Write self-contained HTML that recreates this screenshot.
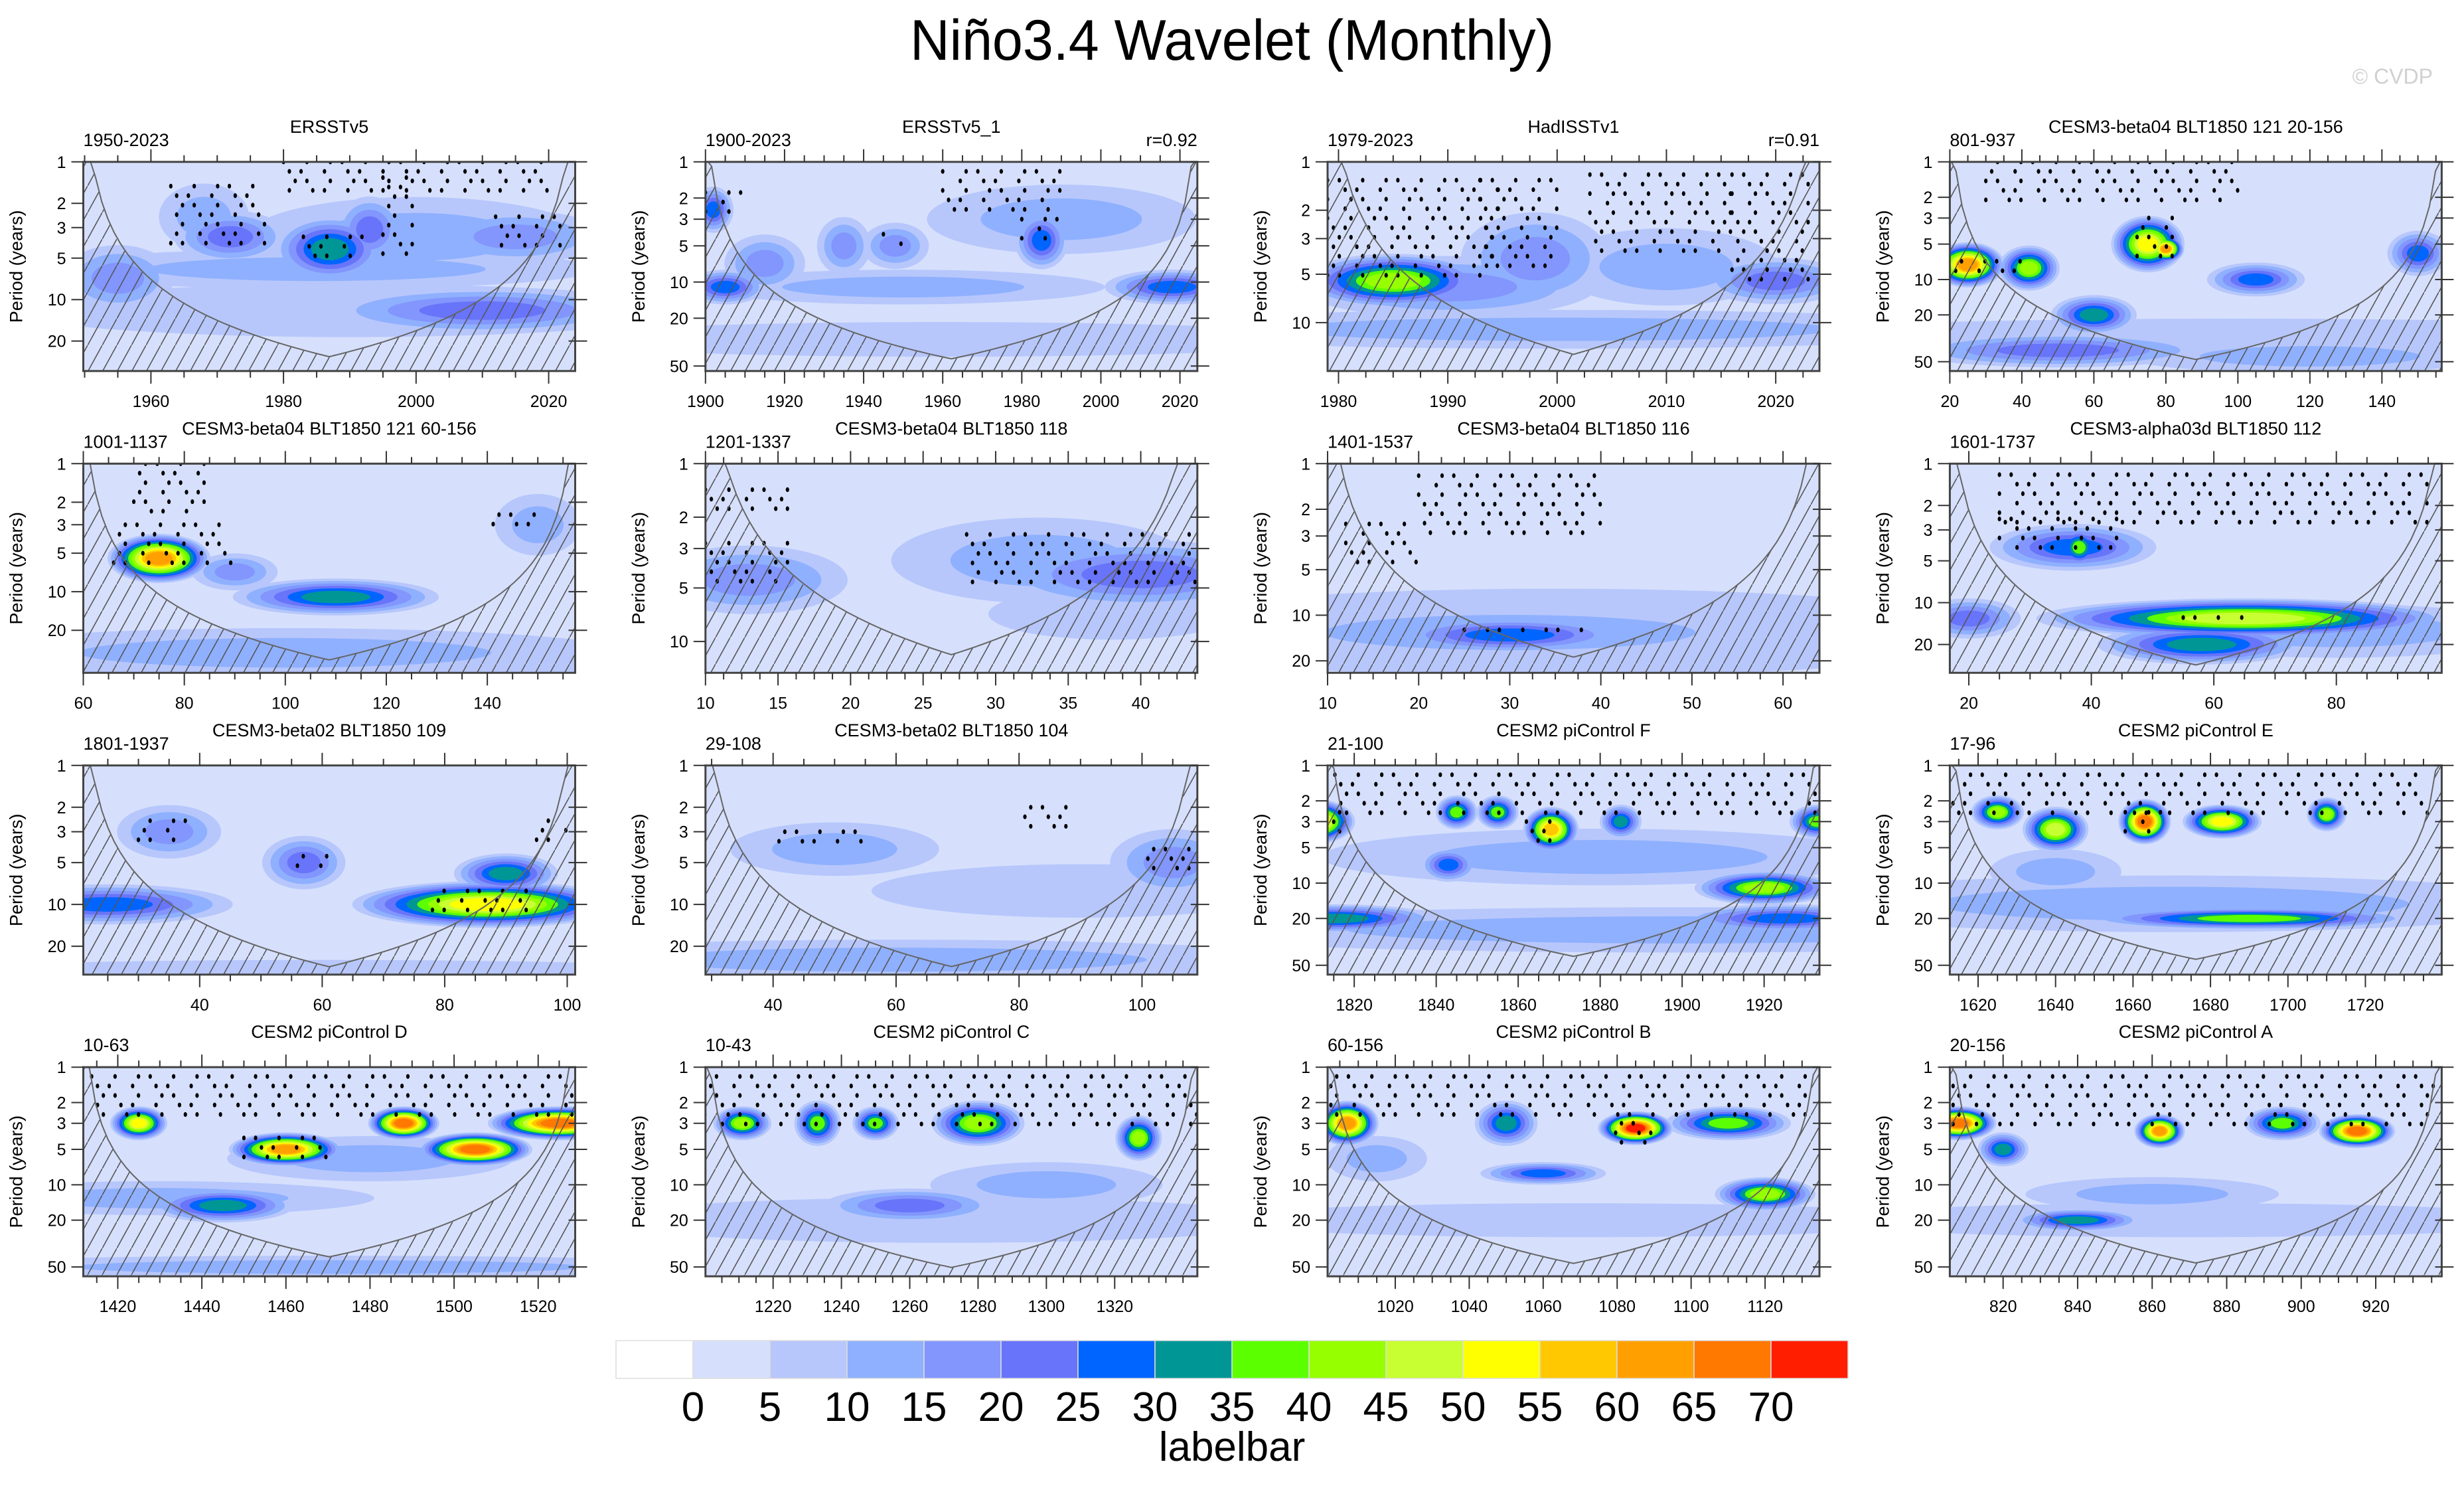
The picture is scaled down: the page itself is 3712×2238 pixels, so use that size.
<!DOCTYPE html>
<html><head><meta charset="utf-8"><title>Niño3.4 Wavelet (Monthly)</title>
<style>
html,body{margin:0;padding:0;background:#fff;}
svg{display:block;font-family:"Liberation Sans",sans-serif;}
</style></head>
<body>
<svg id="fig" width="3712" height="2238" viewBox="0 0 3712 2238" xmlns="http://www.w3.org/2000/svg">
<defs>
<pattern id="hatch" patternUnits="userSpaceOnUse" width="22" height="40">
<line x1="0" y1="40" x2="22" y2="0" stroke="#555" stroke-width="1.6"/>
</pattern>
</defs>
<text x="1856" y="90" font-size="86" text-anchor="middle" fill="#000" textLength="970" lengthAdjust="spacingAndGlyphs">Niño3.4 Wavelet (Monthly)</text>
<text x="3665" y="126" font-size="32" text-anchor="end" fill="#d0d0d0">© CVDP</text>
<g id="panels"></g>
<g id="labelbar"></g>
</svg>
<script>
const panelTitles=["ERSSTv5","ERSSTv5_1","HadISSTv1","CESM3-beta04 BLT1850 121 20-156",
"CESM3-beta04 BLT1850 121 60-156","CESM3-beta04 BLT1850 118","CESM3-beta04 BLT1850 116","CESM3-alpha03d BLT1850 112",
"CESM3-beta02 BLT1850 109","CESM3-beta02 BLT1850 104","CESM2 piControl F","CESM2 piControl E",
"CESM2 piControl D","CESM2 piControl C","CESM2 piControl B","CESM2 piControl A"];
const panelRanges=["1950-2023","1900-2023","1979-2023","801-937","1001-1137","1201-1337","1401-1537","1601-1737",
"1801-1937","29-108","21-100","17-96","10-63","10-43","60-156","20-156"];
const panelCorr=["","r=0.92","r=0.91","","","","","","","","","","","","",""];
const xDomains=[[1949.8,2024],[1900,2024.4],[1979,2024],[20,156.6],[60,157.4],[10,43.9],[10,64],[16.9,97.2],
[21,101.3],[29,109],[1813.5,1933.5],[1612.7,1739.7],[1411.8,1528.8],[1200.2,1344.2],[1001.7,1134.7],[805.7,937.7]];
const maxPeriods=[33,55,20,60,43,15,24,32,32,32,60,60,60,60,60,60];
const xTickValues=[[1960,1980,2000,2020],[1900,1920,1940,1960,1980,2000,2020],[1980,1990,2000,2010,2020],[20,40,60,80,100,120,140],
[60,80,100,120,140],[10,15,20,25,30,35,40],[10,20,30,40,50,60],[20,40,60,80],
[40,60,80,100],[40,60,80,100],[1820,1840,1860,1880,1900,1920],[1620,1640,1660,1680,1700,1720],
[1420,1440,1460,1480,1500,1520],[1220,1240,1260,1280,1300,1320],[1020,1040,1060,1080,1100,1120],[820,840,860,880,900,920]];
const yTickValues=[[1,2,3,5,10,20],[1,2,3,5,10,20,50],[1,2,3,5,10],[1,2,3,5,10,20,50],
[1,2,3,5,10,20],[1,2,3,5,10],[1,2,3,5,10,20],[1,2,3,5,10,20],
[1,2,3,5,10,20],[1,2,3,5,10,20],[1,2,3,5,10,20,50],[1,2,3,5,10,20,50],
[1,2,3,5,10,20,50],[1,2,3,5,10,20,50],[1,2,3,5,10,20,50],[1,2,3,5,10,20,50]];
// blobs: [time, period, half-width (time units), half-height (octaves), peak level]
const blobs=[
[[1990,12,30,0.4,2],[1985,6,25,0.3,3],[2000,3.5,15,0.6,3],[1955,7,5,0.5,4],[1968,2.5,4,0.5,3],[2015,3.5,8,0.4,4],[1972,3.5,5,0.4,5],[1993,3.1,3,0.5,5],[2010,12,14,0.35,5],[1987,4.3,5,0.5,7]],
[[1960,30,60,0.3,2],[1950,11,30,0.3,3],[1990,3,20,0.6,3],[1915,7,6,0.5,4],[1935,5,4,0.5,4],[1948,5,5,0.4,4],[1902,2.5,3,0.4,6],[1905,11,6,0.3,6],[2018,11,10,0.3,6],[1985,4.5,4,0.5,6]],
[[2000,11,25,0.25,3],[2010,4.5,6,0.5,3],[1990,6,8,0.4,4],[1998,4,4,0.6,4],[2020,5.5,4,0.3,5],[1985,5.5,5,0.35,9]],
[[100,30,80,0.3,2],[120,45,30,0.3,3],[50,40,25,0.3,5],[150,6,5,0.4,6],[105,10,8,0.3,6],[60,20,7,0.35,7],[42,8,5,0.4,9],[75,5,6,0.5,11],[25,7.5,6,0.4,13],[80,5.5,3,0.25,13]],
[[100,40,40,0.3,2],[100,30,40,0.4,3],[150,3,5,0.5,3],[90,7,5,0.3,4],[110,11,12,0.3,7],[75,5.5,6,0.4,13]],
[[38,7,5,0.3,2],[33,3.5,6,0.5,3],[13,4.5,4,0.4,4],[40,4.2,6,0.4,5]],
[[35,13,30,0.6,2],[30,13,20,0.4,3],[30,13.5,8,0.25,6]],
[[80,16,20,0.4,3],[20,13,5,0.3,5],[37,4,8,0.35,6],[58,20,10,0.3,7],[38,4,2,0.3,8],[65,13,20,0.3,10],[70,13,10,0.2,10]],
[[60,35,50,0.3,2],[35,3,5,0.4,4],[57,5,4,0.4,5],[25,10,12,0.3,6],[90,6,5,0.3,7],[87,10,13,0.35,11]],
[[90,8,20,0.4,2],[50,4,10,0.4,3],[60,25,40,0.3,3],[105,5,6,0.5,4]],
[[1900,25,80,0.4,3],[1880,6,40,0.5,3],[1925,20,15,0.25,6],[1843,7,4,0.3,6],[1815,20,15,0.25,7],[1885,3,3,0.3,7],[1855,2.5,3,0.3,8],[1845,2.5,3,0.3,8],[1933,3,4,0.3,8],[1920,11,10,0.3,9],[1868,3.5,4,0.4,12],[1810,3,6,0.4,13]],
[[1670,15,60,0.5,3],[1640,8,10,0.4,3],[1690,20,25,0.2,8],[1625,2.5,4,0.3,9],[1710,2.6,3,0.3,9],[1640,3.5,5,0.4,10],[1683,3,6,0.3,11],[1663,3,4,0.4,14]],
[[1470,50,60,0.2,3],[1430,13,30,0.3,3],[1480,6,20,0.4,3],[1445,15,10,0.3,7],[1425,3,4,0.3,11],[1460,5,8,0.3,13],[1488,3,5,0.3,14],[1505,5,8,0.3,14],[1525,3,10,0.3,14]],
[[1270,20,60,0.4,2],[1300,10,20,0.4,3],[1260,15,15,0.3,5],[1233,3,4,0.4,8],[1250,3,4,0.3,8],[1211,3,5,0.3,9],[1280,3,8,0.4,9],[1327,4,4,0.4,9]],
[[1070,20,60,0.3,2],[1015,6,8,0.4,3],[1060,8,10,0.2,6],[1050,3,5,0.4,7],[1110,3,10,0.3,8],[1120,12,8,0.3,9],[1007,3,5,0.4,13],[1085,3.3,6,0.3,15]],
[[870,20,60,0.3,2],[860,12,20,0.3,3],[840,20,10,0.2,7],[820,5,4,0.3,7],[895,3,6,0.3,8],[862,3.5,4,0.3,13],[808,3,6,0.3,14],[915,3.5,6,0.3,14]]
];
// stippled (significant) regions: [t0, t1, p0, p1]
const stipples=[
[[1963,1978,1.5,4.5],[1983,1992,3.5,5],[1995,2000,1.3,5],[2012,2022,2.5,4.2],[1980,2020,1,1.8]],
[[1900,1910,1.8,3],[1980,1990,3,5],[1945,1950,4,5.5],[1960,1990,1.2,2.5]],
[[1979,1995,1.3,5.5],[1993,2000,1.3,4.5],[2003,2016,1.2,4],[2016,2023,1.2,5.5]],
[[20,40,7,9],[72,85,3,6.5],[30,100,1,2.5]],
[[66,90,3,7],[70,85,1,2.5],[140,150,2.5,3.2]],
[[10,16,1.4,1.9],[10,16,2.8,4.8],[28,44,2.5,4.8]],
[[20,40,1.2,3],[12,20,2.5,5],[25,40,12.5,13.5]],
[[25,45,2.5,4.5],[55,65,12.8,13.5],[25,95,1.2,3]],
[[30,38,2.5,3.5],[55,62,4.5,6],[78,95,8,11],[95,100,2.5,3.5]],
[[40,55,3,4],[80,90,2,3],[100,108,4,6]],
[[1801,1937,1.2,3],[1805,1818,2.5,4],[1862,1872,3,4.5]],
[[1612,1737,1.2,3],[1658,1668,2.5,4]],
[[1411,1528,1.2,3],[1450,1470,4,6]],
[[1200,1344,1.2,3.5]],
[[1001,1134,1.2,3],[1078,1090,3,4.5]],
[[805,937,1.2,3.2]]
];
const levelColors=["#ffffff","#d6e0fc","#b7c7fc","#8fb0fe","#8296fd","#6874f9","#0064ff","#009696","#5cff00","#96ff00","#c8ff32","#ffff00","#ffc800","#ffa000","#ff7800","#ff1e00"];
const barLabels=["0","5","10","15","20","25","30","35","40","45","50","55","60","65","70"];

const NS="http://www.w3.org/2000/svg";
function mk(tag,attrs,parent){const e=document.createElementNS(NS,tag);for(const k in attrs)e.setAttribute(k,attrs[k]);if(parent)parent.appendChild(e);return e;}
const colLefts=[125.5,1062.8,2000,2937.4];
const rowTops=[243.8,698.3,1152.8,1607.2];
const PW=741, PH=315;
const SX=1.7, SY=1.6; // visual spread of contours
const root=document.getElementById('panels');

for(let i=0;i<16;i++){
  const L=colLefts[i%4], T=rowTops[Math.floor(i/4)];
  const [x0,x1]=xDomains[i]; const maxP=maxPeriods[i];
  const xs=t=>L+PW*(t-x0)/(x1-x0);
  const ys=p=>T+PH*Math.log2(p)/Math.log2(maxP);
  const g=mk('g',{},root);
  
  
  mk('clipPath',{id:'clip'+i},g).appendChild(mk('rect',{x:L,y:T,width:PW,height:PH}));
  const plot=mk('g',{'clip-path':'url(#clip'+i+')'},g);
  const bg=mk('rect',{x:L,y:T,width:PW,height:PH,fill:levelColors[1]},plot);
  
  
  const maxL=Math.max(...blobs[i].map(b=>b[4]));
  for(let k=2;k<=maxL;k++){
    blobs[i].forEach(b=>{
      const [t,p,hw,hh,pk]=b; if(pk<k) return;
      const f=1-0.8*(k-2)/Math.max(1,pk-1);
      const el=mk('ellipse',{cx:xs(t),cy:ys(p),rx:Math.max(3,SX*hw*f*PW/(x1-x0)),ry:Math.max(3,SY*hh*f*PH/Math.log2(maxP)),fill:levelColors[k]},plot);
      
      
    });
  }
  // stippling
  const dx=PW/42, dy=PH/22;
  stipples[i].forEach(s=>{
    const [t0,t1,p0,p1]=s;
    const xa=xs(t0),xb=xs(t1),ya=ys(p0),yb=ys(p1);
    for(let yy=ya, r=0; yy<=yb; yy+=dy, r++){
      let c=0;
      for(let xx=xa+(r%2)*dx/2; xx<=xb; xx+=dx, c++){
        if(((r*7+c*3+i)%5)>2) continue;
        const d=mk('ellipse',{cx:xx,cy:yy,rx:2.6,ry:3.6,fill:'#000'},plot);
        
        
      }
    }
  });
  // cone of influence
  const k=0.7; let pts=[];
  const N=80;
  for(let j=0;j<=N;j++){const t=x0+(x1-x0)*j/N; let p=k*Math.min(t-x0,x1-t); p=Math.max(0.5,Math.min(maxP*1.05,p)); pts.push([xs(t),Math.max(T-5,ys(p))]);}
  const dstr='M'+L+','+(T+PH+5)+' L'+pts.map(q=>q[0].toFixed(1)+','+q[1].toFixed(1)).join(' L')+' L'+(L+PW)+','+(T+PH+5)+'Z';
  const hatch=mk('path',{d:dstr,fill:'url(#hatch)'},plot);
  
  
  const coi=mk('path',{d:'M'+pts.map(q=>q[0].toFixed(1)+','+q[1].toFixed(1)).join(' L'),fill:'none',stroke:'#666',"stroke-width":2},plot);
  
  
  const frame=mk('rect',{x:L,y:T,width:PW,height:PH,fill:'none',stroke:'#444',"stroke-width":3},g);
  
  
  // x ticks
  const xt=xTickValues[i]; const step=xt[1]-xt[0]; const minor=step/4;
  for(let t=xt[0]-Math.floor((xt[0]-x0)/minor)*minor; t<=x1+1e-6; t+=minor){
    const x=xs(t); if(x<L-1||x>L+PW+1) continue;
    const major=xt.some(v=>Math.abs(v-t)<1e-6);
    const len=major?19:10;
    mk('line',{x1:x,y1:T+PH,x2:x,y2:T+PH+len,stroke:'#333',"stroke-width":2},g);
    mk('line',{x1:x,y1:T,x2:x,y2:T-len,stroke:'#333',"stroke-width":2},g);
  }
  xt.forEach(v=>{
    const tl=mk('text',{x:xs(v),y:T+PH+54,"font-size":25,"text-anchor":"middle"},g);
    tl.textContent=v;
    
    
  });
  // y ticks
  yTickValues[i].forEach(v=>{
    const y=ys(v);
    mk('line',{x1:L-18,y1:y,x2:L,y2:y,stroke:'#333',"stroke-width":2},g);
    mk('line',{x1:L+PW-10,y1:y,x2:L+PW+18,y2:y,stroke:'#333',"stroke-width":2},g);
    const yl=mk('text',{x:L-26,y:y+9,"font-size":25,"text-anchor":"end"},g);
    yl.textContent=v;
    
    
  });
  const ya=mk('text',{x:0,y:0,"font-size":27,"text-anchor":"middle",transform:'translate('+(L-92)+','+(T+PH/2)+') rotate(-90)'},g);
  ya.textContent='Period (years)';
  
  
  const tt=mk('text',{x:L+PW/2,y:T-44,"font-size":27,"text-anchor":"middle"},g);
  tt.textContent=panelTitles[i];
  
  
  const rl=mk('text',{x:L,y:T-24,"font-size":27,"text-anchor":"start"},g);
  rl.textContent=panelRanges[i];
  
  
  if(panelCorr[i]){
    const cr=mk('text',{x:L+PW,y:T-24,"font-size":27,"text-anchor":"end"},g);
    cr.textContent=panelCorr[i];
    
    
  }
}
// labelbar
const lb=document.getElementById('labelbar');
const bx0=928, bw=116, by=2019, bh=57;
levelColors.forEach((c,j)=>{
  const r=mk('rect',{x:bx0+j*bw,y:by,width:bw,height:bh,fill:c,stroke:'#ddd',"stroke-width":1.5},lb);
  
  
});
barLabels.forEach((s,j)=>{
  const t=mk('text',{x:bx0+(j+1)*bw,y:2140,"font-size":62,"text-anchor":"middle"},lb);
  t.textContent=s;
  
  
});
const lt=mk('text',{x:1856,y:2200,"font-size":62,"text-anchor":"middle"},lb);
lt.textContent='labelbar';


</script>
</body></html>
